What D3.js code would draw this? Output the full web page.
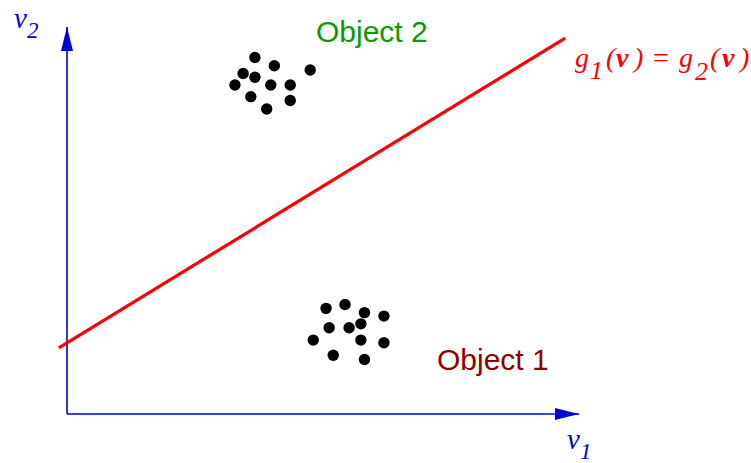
<!DOCTYPE html>
<html>
<head>
<meta charset="utf-8">
<script src="https://cdn.jsdelivr.net/npm/d3@7"></script>
<style>
  html, body { margin: 0; padding: 0; background: #fff; }
  svg { display: block; }
</style>
</head>
<body>
<svg id="chart" width="751" height="463"></svg>
<script>
// ---- data (abstract feature-space coordinates, 0..100) ----
const object1X = [50.6, 54.3, 58.1, 61.9, 51.2, 55.1, 57.4, 48.1, 57.4, 61.9, 52.0, 58.1];
const object1Y = [27.3, 28.3, 26.2, 25.3, 22.3, 22.3, 23.3, 19.1, 19.1, 18.4, 15.2, 14.1];
const object2X = [36.7, 40.5, 47.5, 34.4, 36.7, 32.8, 39.8, 43.6, 35.9, 43.6, 39.0];
const object2Y = [92.1, 90.0, 88.9, 88.0, 87.0, 85.0, 85.0, 85.0, 82.0, 81.0, 78.8];
const boundaryX = [-1.6, 97.3];
const boundaryY = [17.1, 97.1];
const axisDomain = [0, 100];
const labels = { obj1: "Object 1", obj2: "Object 2" };

const svg = d3.select("#chart");
const x = d3.scaleLinear().domain(axisDomain).range([67, 579]);
const y = d3.scaleLinear().domain(axisDomain).range([414, 27]);

const blue = "#0000d8";

// axes with arrowheads
const defs = svg.append("defs");
defs.append("marker").attr("id", "arrow")
  .attr("viewBox", "0 0 24 12").attr("refX", 24).attr("refY", 6)
  .attr("markerWidth", 24).attr("markerHeight", 12)
  .attr("markerUnits", "userSpaceOnUse").attr("orient", "auto")
  .append("path").attr("d", "M0,0 L24,6 L0,12 Z").attr("fill", blue);

svg.append("line")
  .attr("x1", x(0)).attr("y1", y(0)).attr("x2", x(0)).attr("y2", y(100))
  .attr("stroke", blue).attr("stroke-width", 1.6).attr("marker-end", "url(#arrow)");
svg.append("line")
  .attr("x1", x(0)).attr("y1", y(0)).attr("x2", x(100)).attr("y2", y(0))
  .attr("stroke", blue).attr("stroke-width", 1.6).attr("marker-end", "url(#arrow)");

// decision boundary
svg.append("path")
  .datum(d3.zip(boundaryX, boundaryY))
  .attr("d", d3.line().x(d => x(d[0])).y(d => y(d[1])))
  .attr("stroke", "#ff0000").attr("stroke-width", 3.2).attr("fill", "none");

// clusters
const pts = d3.zip(object1X, object1Y).concat(d3.zip(object2X, object2Y));
svg.append("g").selectAll("circle").data(pts).join("circle")
  .attr("cx", d => x(d[0])).attr("cy", d => y(d[1])).attr("r", 5.7)
  .attr("fill", "#000");

// object labels
svg.append("text").attr("x", 316).attr("y", 41.5)
  .attr("font-family", "Liberation Sans, Arial, sans-serif").attr("font-size", 30)
  .attr("fill", "#0a990a").text(labels.obj2);
svg.append("text").attr("x", 437).attr("y", 370)
  .attr("font-family", "Liberation Sans, Arial, sans-serif").attr("font-size", 30)
  .attr("fill", "#900000").text(labels.obj1);

const serif = "Liberation Serif, Times New Roman, serif";

// axis labels
function varLabel(px, py, sub, color) {
  const t = svg.append("text").attr("x", px).attr("y", py)
    .attr("font-family", serif).attr("font-style", "italic").attr("fill", color);
  t.append("tspan").attr("font-size", 29).text("v");
  t.append("tspan").attr("font-size", 23).attr("dy", 10).text(sub);
}
varLabel(14, 28, "2", blue);
varLabel(567, 449, "1", blue);

// boundary equation
const eq = svg.append("g").attr("font-family", serif).attr("font-style", "italic")
  .attr("fill", "#ff0000").attr("font-size", 28);
const pieces = [
  { t: "g", x: 575, dy: 0, fs: 28 },
  { t: "1", x: 590, dy: 12, fs: 26 },
  { t: "(", x: 606, dy: 0, fs: 28 },
  { t: "v", x: 616, dy: 0, b: true, fs: 28 },
  { t: ")", x: 634, dy: 0, fs: 28 },
  { t: "=", x: 653, dy: 0, n: true, fs: 28 },
  { t: "g", x: 679, dy: 0, fs: 28 },
  { t: "2", x: 695, dy: 13, fs: 26 },
  { t: "(", x: 710, dy: 0, fs: 28 },
  { t: "v", x: 722, dy: 0, b: true, fs: 28 },
  { t: ")", x: 740, dy: 0, fs: 28 }
];
eq.selectAll("text").data(pieces).join("text")
  .attr("x", d => d.x).attr("y", d => 67 + d.dy)
  .attr("font-size", d => d.fs)
  .attr("font-weight", d => d.b ? "bold" : "normal")
  .attr("font-style", d => d.n ? "normal" : "italic")
  .text(d => d.t);
</script>
</body>
</html>
